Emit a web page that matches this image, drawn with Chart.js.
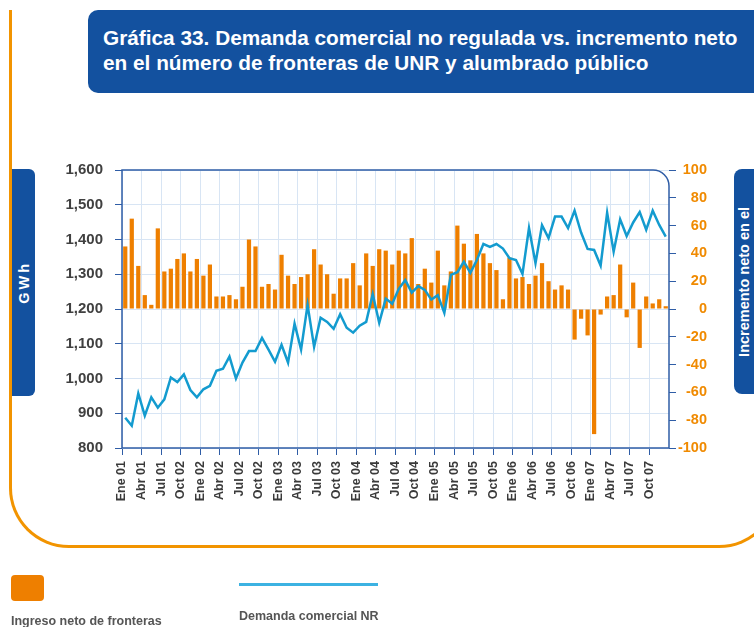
<!DOCTYPE html>
<html>
<head>
<meta charset="utf-8">
<script src="https://cdn.jsdelivr.net/npm/chart.js@4/dist/chart.umd.min.js"></script>
<style>
  html, body { margin: 0; padding: 0; }
  body { width: 754px; height: 627px; position: relative; overflow: hidden; background: #fff;
         font-family: "Liberation Sans", Arial, sans-serif; }
  .frame { position: absolute; left: 9px; top: 10px; width: 770px; height: 538px; box-sizing: border-box;
           border: 3px solid #F29400; border-top: none; border-radius: 0 0 60px 60px; }
  .title { position: absolute; left: 88px; top: 10px; width: 700px; height: 83px; box-sizing: border-box;
           background: #13519F; border-radius: 10px; color: #fff; font-weight: bold; font-size: 20.8px;
           line-height: 25px; padding: 15px 0 0 15px; white-space: nowrap; }
  .side { position: absolute; background: #13519F; color: #fff; font-weight: bold; font-size: 14.5px;
          display: flex; align-items: center; justify-content: center; }
  .side span { writing-mode: vertical-rl; transform: rotate(180deg); text-align: center; white-space: nowrap; }
  #gwh { left: 12px; top: 169px; width: 23px; height: 227px; border-radius: 0 6px 6px 0; }
  #gwh span { letter-spacing: 3px; font-size: 14.5px; }
  #inc { left: 734px; top: 169px; width: 44px; height: 225px; border-radius: 8px 0 0 8px;
         justify-content: flex-start; padding-left: 1px; box-sizing: border-box; line-height: 18px; }
  #chart { position: absolute; left: 0; top: 0; }
  .leg-box { position: absolute; left: 11px; top: 575px; width: 33px; height: 26px; background: #EE7F00; border-radius: 4px; }
  .leg-line { position: absolute; left: 239px; top: 583px; width: 139px; height: 3px; background: #3CB2E2; }
  .leg-txt { position: absolute; font-weight: bold; font-size: 12.5px; color: #555; white-space: nowrap; }
</style>
</head>
<body>
<div class="frame"></div>
<div class="title">Gráfica 33. Demanda comercial no regulada vs. incremento neto<br>en el número de fronteras de UNR y alumbrado público</div>
<div class="side" id="gwh"><span>GWh</span></div>
<div class="side" id="inc"><span>Incremento neto en el<br>número de fronteras</span></div>
<canvas id="chart" width="754" height="627"></canvas>
<div class="leg-box"></div>
<div class="leg-txt" style="left:11px; top:614px;">Ingreso neto de fronteras</div>
<div class="leg-line"></div>
<div class="leg-txt" style="left:239px; top:609px;">Demanda comercial NR</div>

<script>
// months Ene 01 .. Dic 07
const years = ["01", "02", "03", "04", "05", "06", "07"];
const monthNames = ["Ene", "Feb", "Mar", "Abr", "May", "Jun", "Jul", "Ago", "Sep", "Oct", "Nov", "Dic"];
const months = [];
years.forEach(y => monthNames.forEach(m => months.push(m + " " + y)));

// quarter tick labels as printed on the original axis
const tickLabels = [
  "Ene 01", "Abr 01", "Jul 01", "Oct 02",
  "Ene 02", "Abr 02", "Jul 02", "Oct 02",
  "Ene 03", "Abr 03", "Jul 03", "Oct 03",
  "Ene 04", "Abr 04", "Jul 04", "Oct 04",
  "Ene 05", "Abr 05", "Jul 05", "Oct 05",
  "Ene 06", "Abr 06", "Jul 06", "Oct 06",
  "Ene 07", "Abr 07", "Jul 07", "Oct 07"
];

// Ingreso neto de fronteras (right axis)
const ingresoNeto = [
  45, 65, 31, 10, 3, 58, 27, 29, 36, 40, 27, 36,
  24, 32, 9, 9, 10, 7, 16, 50, 45, 16, 18, 14,
  39, 24, 18, 23, 25, 43, 32, 25, 11, 22, 22, 33,
  17, 40, 31, 43, 42, 32, 42, 40, 51, 18, 29, 19,
  42, 17, 27, 60, 47, 35, 54, 40, 33, 28, 7, 37,
  22, 23, 18, 24, 33, 20, 14, 17, 14, -22, -7, -19,
  -90, -4, 9, 10, 32, -6, 19, -28, 9, 4, 7, 2
];

// Demanda comercial NR, GWh (left axis)
const demandaNR = [
  887, 864, 957, 893, 946, 916, 940, 1003, 990, 1012, 967, 946,
  969, 979, 1022, 1028, 1063, 1000, 1046, 1079, 1079, 1117, 1083, 1048,
  1097, 1046, 1158, 1083, 1212, 1091, 1175, 1163, 1143, 1185, 1146, 1132,
  1152, 1163, 1243, 1160, 1230, 1215, 1258, 1283, 1247, 1266, 1255, 1227,
  1240, 1189, 1298, 1306, 1336, 1304, 1341, 1387, 1379, 1387, 1374, 1346,
  1341, 1301, 1433, 1332, 1441, 1404, 1466, 1466, 1433, 1483, 1420, 1373,
  1370, 1325, 1477, 1365, 1458, 1410, 1449, 1479, 1428, 1483, 1442, 1408
];

const axisBlue = "#2F5DA6";
const gridBlue = "#D8E5F4";

Chart.defaults.font.family = '"Liberation Sans", Arial, sans-serif';

// plot frame with rounded top-right corner
const framePlugin = {
  id: "frame",
  afterDatasetsDraw(chart) {
    const { left, top, right, bottom } = chart.chartArea;
    const c = chart.ctx, r = 16;
    c.save();
    c.strokeStyle = axisBlue;
    c.lineWidth = 1.5;
    c.beginPath();
    c.moveTo(left, bottom);
    c.lineTo(left, top);
    c.lineTo(right - r, top);
    c.arcTo(right, top, right, top + r, r);
    c.lineTo(right, bottom);
    c.lineTo(left, bottom);
    c.stroke();
    c.restore();
  }
};

new Chart(document.getElementById("chart"), {
  data: {
    labels: months,
    datasets: [
      {
        type: "line",
        label: "Demanda comercial NR",
        data: demandaNR,
        yAxisID: "y",
        borderColor: "#139BCF",
        borderWidth: 2.5,
        pointRadius: 0,
        tension: 0,
        order: 1
      },
      {
        type: "bar",
        label: "Ingreso neto de fronteras",
        data: ingresoNeto,
        yAxisID: "y1",
        backgroundColor: "#EE7F00",
        barPercentage: 0.65,
        categoryPercentage: 1,
        order: 2
      }
    ]
  },
  options: {
    responsive: false,
    animation: false,
    layout: { padding: { left: 0, right: 47, top: 170, bottom: 0 } },
    plugins: { legend: { display: false }, tooltip: { enabled: false } },
    scales: {
      x: {
        type: "category",
        offset: true,
        border: { display: false },
        grid: {
          offset: true,
          tickLength: 7,
          color: ctx => ctx.index % 3 === 0 ? gridBlue : "rgba(0,0,0,0)",
          tickColor: ctx => ctx.index % 3 === 0 ? axisBlue : "rgba(0,0,0,0)"
        },
        ticks: {
          autoSkip: false,
          minRotation: 90,
          maxRotation: 90,
          labelOffset: -3.25,
          padding: 6,
          color: "#3A3A3A",
          font: { size: 12.5, weight: "bold" },
          callback: (v, i) => i % 3 === 0 ? tickLabels[i / 3] : ""
        },
        afterFit: s => { s.height = 179; }
      },
      y: {
        position: "left",
        min: 800,
        max: 1600,
        border: { display: false },
        grid: { color: gridBlue, tickColor: axisBlue, tickLength: 7 },
        ticks: {
          stepSize: 100,
          padding: 12,
          color: "#404040",
          font: { size: 15, weight: "bold" },
          callback: v => v.toLocaleString("en-US")
        },
        afterFit: s => { s.width = 122; }
      },
      y1: {
        position: "right",
        min: -100,
        max: 100,
        border: { display: false },
        grid: { drawOnChartArea: false, tickColor: axisBlue, tickLength: 7 },
        ticks: {
          stepSize: 20,
          crossAlign: "far",
          color: "#F08A00",
          font: { size: 14.5, weight: "bold" }
        },
        afterFit: s => { s.width = 38; }
      }
    }
  },
  plugins: [framePlugin]
});
</script>
</body>
</html>
